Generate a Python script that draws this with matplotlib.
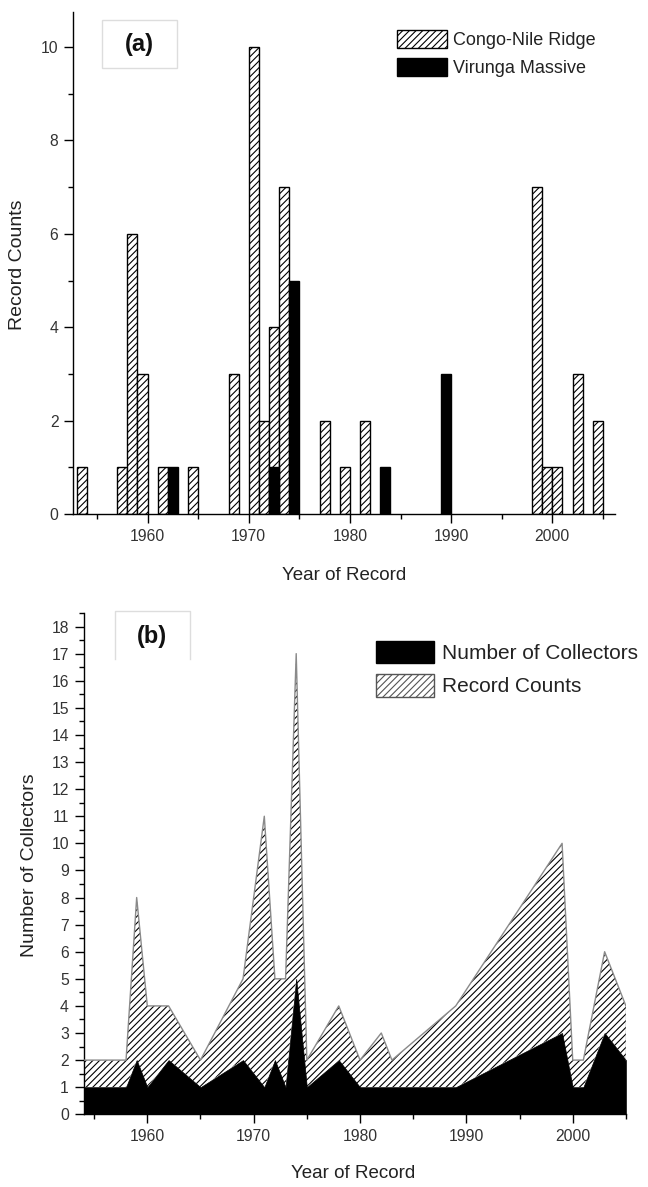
import matplotlib
matplotlib.use('Agg')
import matplotlib.pyplot as plt
from matplotlib.patches import Patch, Rectangle
from matplotlib.lines import Line2D
from matplotlib.ticker import MultipleLocator, FormatStrFormatter
import numpy as np

plt.rcParams['font.family'] = ['Liberation Sans', 'DejaVu Sans']
plt.rcParams['hatch.linewidth'] = 0.8

# ---------------- data ----------------
congo_years = [1954, 1958, 1959, 1960, 1962, 1965, 1969, 1971, 1972, 1973,
               1974, 1978, 1980, 1982, 1999, 2000, 2001, 2003, 2005]
congo_counts = [1, 1, 6, 3, 1, 1, 3, 10, 2, 4, 7, 2, 1, 2, 7, 1, 1, 3, 2]
virunga_years = [1962, 1972, 1974, 1983, 1989]
virunga_counts = [1, 1, 5, 1, 3]

years_b = [1954, 1958, 1959, 1960, 1962, 1965, 1969, 1971, 1972, 1973, 1974,
           1975, 1978, 1980, 1982, 1983, 1989, 1999, 2000, 2001, 2003, 2005]
collectors = [1, 1, 2, 1, 2, 1, 2, 1, 2, 1, 5, 1, 2, 1, 1, 1, 1, 3, 1, 1, 3, 2]
records = [1, 1, 6, 3, 2, 1, 3, 10, 3, 4, 12, 1, 2, 1, 2, 1, 3, 7, 1, 1, 3, 2]

W, H = 648, 1187
fig = plt.figure(figsize=(W / 100, H / 100), dpi=100)

TICK_COLOR = '#333333'
TEXT_COLOR = '#222222'


def style_axes(ax):
    for s in ('top', 'right'):
        ax.spines[s].set_visible(False)
    for s in ('left', 'bottom'):
        ax.spines[s].set_linewidth(1.0)
    ax.tick_params(which='major', direction='out', length=6.5, width=1.0,
                   labelsize=11.3, labelcolor=TICK_COLOR, pad=4)
    ax.tick_params(which='minor', direction='out', length=3.4, width=1.0)


# ---------------- panel (a) ----------------
ax1 = fig.add_axes([73 / W, 1 - 514 / H, 542 / W, 502 / H])
ax1.bar(np.array(congo_years) - 0.5, congo_counts, width=1.0,
        facecolor='white', edgecolor='black', hatch='/////', linewidth=1.0,
        zorder=2)
ax1.bar(np.array(virunga_years) + 0.5, virunga_counts, width=1.0,
        facecolor='black', edgecolor='black', linewidth=1.0, zorder=3)
ax1.set_xlim(1952.63, 2006.19)
ax1.set_ylim(0, 10.75)
ax1.xaxis.set_major_locator(MultipleLocator(10))
ax1.xaxis.set_minor_locator(MultipleLocator(5))
ax1.yaxis.set_major_locator(MultipleLocator(2))
ax1.yaxis.set_minor_locator(MultipleLocator(1))
ax1.xaxis.set_major_formatter(FormatStrFormatter('%d'))
style_axes(ax1)

leg1_handles = [Patch(facecolor='white', edgecolor='black', hatch='/////',
                      linewidth=1.0),
                Patch(facecolor='black', edgecolor='black', linewidth=1.0)]
ax1.legend(leg1_handles, ['Congo-Nile Ridge', 'Virunga Massive'],
           loc='upper left', bbox_to_anchor=((397 - 73) / 542, (514 - 30) / 502),
           frameon=False, borderpad=0, borderaxespad=0, fontsize=13,
           handlelength=2.75, handleheight=1.15, handletextpad=0.35,
           labelspacing=0.5, labelcolor=TEXT_COLOR)

fig.add_artist(Rectangle((101.7 / W, 1 - 68.3 / H), 75 / W, 48.3 / H,
                         transform=fig.transFigure, facecolor='white',
                         edgecolor='#dddddd', linewidth=1.0))
fig.text(139 / W, 1 - 44 / H, '(a)', fontsize=17, fontweight='bold',
         ha='center', va='center', color='#111111')

fig.text(18 / W, 1 - 265 / H, 'Record Counts', rotation=90, fontsize=14,
         ha='center', va='center', color=TEXT_COLOR)
fig.text(344 / W, 1 - 576 / H, 'Year of Record', fontsize=13.5,
         ha='center', va='center', color=TEXT_COLOR)

# ---------------- panel (b) ----------------
ax2 = fig.add_axes([83.5 / W, 1 - 1114.3 / H, 542.4 / W, 501.3 / H])
yb = np.array(years_b)
col = np.array(collectors)
top = col + np.array(records)
ax2.fill_between(yb, 0, col, facecolor='black', edgecolor='black',
                 linewidth=0.5, zorder=3)
ax2.fill_between(yb, col, top, facecolor='white', edgecolor='black',
                 hatch='/////', linewidth=0, zorder=2)
ax2.plot(yb, top, color='#8a8a8a', linewidth=1.0, zorder=4)
ax2.plot([yb[-1], yb[-1]], [col[-1], top[-1]], color='#8a8a8a',
         linewidth=1.0, zorder=4)
ax2.set_xlim(1954, 2005)
ax2.set_ylim(0, 18.5)
ax2.xaxis.set_major_locator(MultipleLocator(10))
ax2.xaxis.set_minor_locator(MultipleLocator(5))
ax2.yaxis.set_major_locator(MultipleLocator(1))
ax2.yaxis.set_minor_locator(MultipleLocator(0.5))
ax2.xaxis.set_major_formatter(FormatStrFormatter('%d'))
style_axes(ax2)

leg2_handles = [Patch(facecolor='black', edgecolor='black', linewidth=1.0),
                Patch(facecolor='white', edgecolor='#555555', hatch='/////',
                      linewidth=1.0)]
ax2.legend(leg2_handles, ['Number of Collectors', 'Record Counts'],
           loc='upper left',
           bbox_to_anchor=((376 - 83.5) / 542.4, (1114.3 - 640.7) / 501.3),
           frameon=False, borderpad=0, borderaxespad=0, fontsize=15,
           handlelength=2.8, handleheight=1.3, handletextpad=0.37,
           labelspacing=0.5, labelcolor=TEXT_COLOR)

# (b) label box (top and sides)
bx0, bx1, by0, by1 = 115 / W, 190 / W, 1 - 610.7 / H, 1 - 659.3 / H
fig.add_artist(Rectangle((bx0, by1), bx1 - bx0, by0 - by1,
                         transform=fig.transFigure, facecolor='white',
                         edgecolor='none', zorder=5))
fig.add_artist(Line2D([bx0, bx0, bx1, bx1], [by1, by0, by0, by1],
                      transform=fig.transFigure, color='#dddddd',
                      linewidth=1.0, zorder=6))
fig.text(152 / W, 1 - 636 / H, '(b)', fontsize=17, fontweight='bold',
         ha='center', va='center', color='#111111', zorder=7)

fig.text(30 / W, 1 - 865 / H, 'Number of Collectors', rotation=90,
         fontsize=14, ha='center', va='center', color=TEXT_COLOR)
fig.text(353 / W, 1 - 1174 / H, 'Year of Record', fontsize=13.5,
         ha='center', va='center', color=TEXT_COLOR)

fig.savefig('out.png', dpi=100)
